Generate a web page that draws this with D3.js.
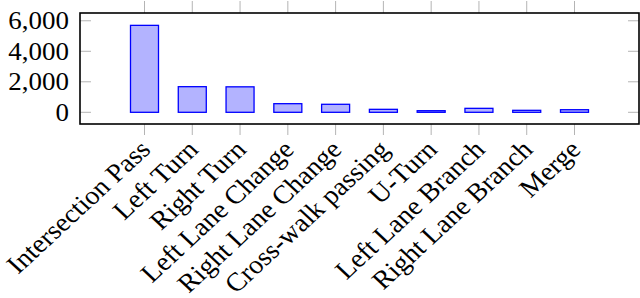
<!DOCTYPE html>
<html>
<head>
<meta charset="utf-8">
<script src="https://cdn.jsdelivr.net/npm/d3@7"></script>
<style>
  body { margin: 0; background: #fff; }
  text { font-family: "Liberation Serif", "DejaVu Serif", serif; fill: #000; }
</style>
</head>
<body>
<script>
// data
const categories = ["Intersection Pass", "Left Turn", "Right Turn", "Left Lane Change",
  "Right Lane Change", "Cross-walk passing", "U-Turn", "Left Lane Branch",
  "Right Lane Branch", "Merge"];
const counts = [5700, 1680, 1670, 565, 525, 195, 105, 260, 130, 170];
const yTicks = [0, 2000, 4000, 6000];

const W = 640, H = 298;
const box = { left: 80, right: 639, top: 13, bottom: 124 };

const svg = d3.select("body")
  .append("svg")
  .attr("width", W)
  .attr("height", H);

// x: category index, with some room at both ends (like pgfplots enlarge limits)
const x = d3.scaleLinear()
  .domain([-1.35, categories.length - 1 + 1.35])
  .range([box.left, box.right]);

const y = d3.scaleLinear()
  .domain([-767, 6510])
  .range([box.bottom, box.top]);

const tickLen = 11;
const grey = "#b4b4b4";
// the reference picture is a little wider than tall, text is stretched sideways
const stretch = 1.08;

// y ticks, inside on both sides
svg.append("g")
  .selectAll("line")
  .data(yTicks)
  .join("line")
  .attr("x1", box.left).attr("x2", box.left + tickLen)
  .attr("y1", d => y(d)).attr("y2", d => y(d))
  .attr("stroke", grey).attr("stroke-width", 1);

svg.append("g")
  .selectAll("line")
  .data(yTicks)
  .join("line")
  .attr("x1", box.right - tickLen).attr("x2", box.right)
  .attr("y1", d => y(d)).attr("y2", d => y(d))
  .attr("stroke", grey).attr("stroke-width", 1);

// x ticks, outside top and bottom
svg.append("g")
  .selectAll("line")
  .data(categories)
  .join("line")
  .attr("x1", (d, i) => x(i)).attr("x2", (d, i) => x(i))
  .attr("y1", box.bottom).attr("y2", box.bottom + tickLen)
  .attr("stroke", grey).attr("stroke-width", 1);

svg.append("g")
  .selectAll("line")
  .data(categories)
  .join("line")
  .attr("x1", (d, i) => x(i)).attr("x2", (d, i) => x(i))
  .attr("y1", box.top - tickLen - 1).attr("y2", box.top)
  .attr("stroke", grey).attr("stroke-width", 1);

// bars
const barW = 28;
svg.append("g")
  .selectAll("rect")
  .data(counts)
  .join("rect")
  .attr("x", (d, i) => x(i) - barW / 2)
  .attr("width", barW)
  .attr("y", d => y(d))
  .attr("height", d => y(0) - y(d))
  .attr("fill", "#b3b3ff")
  .attr("stroke", "#0000ff")
  .attr("stroke-width", 1.3);

// frame
svg.append("rect")
  .attr("x", box.left)
  .attr("y", box.top)
  .attr("width", box.right - box.left)
  .attr("height", box.bottom - box.top)
  .attr("fill", "none")
  .attr("stroke", "#000")
  .attr("stroke-width", 1.6);

// y tick labels
svg.append("g")
  .selectAll("text")
  .data(yTicks)
  .join("text")
  .attr("transform", d => `translate(69,${y(d)}) scale(1.1,1)`)
  .attr("dy", "0.35em")
  .attr("text-anchor", "end")
  .style("font-size", "24.5px")
  .text(d => d3.format(",")(d));

// x tick labels, rotated 45 degrees
svg.append("g")
  .selectAll("text")
  .data(categories)
  .join("text")
  .attr("transform", (d, i) => `translate(${x(i) + 7.5},151) scale(${stretch},1) rotate(-45)`)
  .attr("text-anchor", "end")
  .style("font-size", "26px")
  .text(d => d);
</script>
</body>
</html>
